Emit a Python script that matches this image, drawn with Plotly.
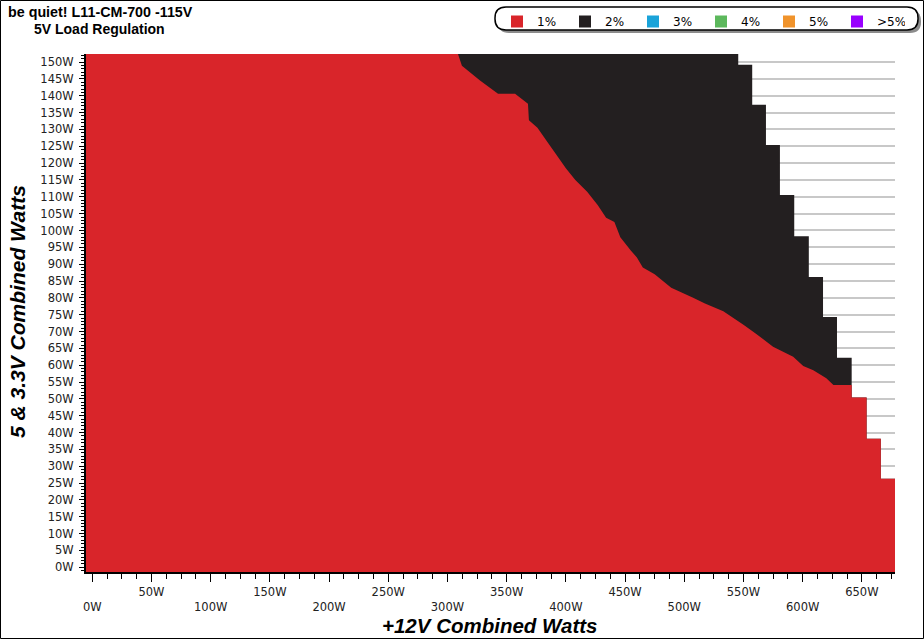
import plotly.graph_objects as go

# 5V/3.3V combined load (y) vs +12V combined load (x), in watts
# outer limit of the tested area: x edge of each 5V band, top band first
band_breaks_5v = [149.2, 137.3, 125.4, 110.5, 98.3, 86.2, 74.3, 62.2, 50.4, 38.2, 26.3]
band_max_12v = [545.6, 557.4, 569.0, 580.8, 592.9, 605.2, 617.2, 629.0, 641.4, 654.0, 666.0, 678.0]

# border between the 1% (red) and 2% (black) zones, top to bottom
border_12v = [308.9, 312.2, 327.5, 342.7, 357.1, 368.0, 368.8, 376.0, 385.0, 392.0, 400.0,
              408.0, 418.0, 427.0, 434.0, 441.0, 446.0, 455.0, 460.0, 465.0, 475.0, 489.0,
              507.5, 517.5, 533.0, 550.0, 560.0, 575.0, 592.0, 600.5, 609.0, 620.0, 626.0]
border_5v = [152.4, 148.9, 144.5, 140.6, 140.6, 137.6, 132.7, 130.5, 126.0, 122.5, 118.5,
             115.0, 111.5, 107.5, 103.8, 102.5, 98.0, 94.0, 92.0, 89.0, 87.0, 83.0,
             80.0, 78.3, 76.0, 72.0, 69.5, 65.5, 62.5, 59.8, 58.5, 56.1, 54.1]

legend_names = ["1%", "2%", "3%", "4%", "5%", ">5%"]
legend_colors = ["#d9252a", "#231f20", "#1aa3d9", "#5cb85c", "#f0932b", "#9900ff"]

x_ticks = list(range(0, 651, 50))
y_ticks = list(range(0, 151, 5))

X_RANGE = [-5.3, 678.0]
Y_RANGE = [-1.4, 152.4]

# plot area in pixels, used to place the texts and the legend box
PL, PR, PT, PB = 86, 895, 54, 572


def px_x(px):
    return (px - PL) / (PR - PL)


def px_y(py):
    return (PB - py) / (PB - PT)


def staircase(breaks, edges, top, bottom):
    xs, ys = [edges[0]], [top]
    for i, b in enumerate(breaks):
        xs += [edges[i], edges[i + 1]]
        ys += [b, b]
    xs.append(edges[-1])
    ys.append(bottom)
    return xs, ys


fig = go.Figure()

# 2% zone: whole tested area
sx, sy = staircase(band_breaks_5v, band_max_12v, Y_RANGE[1], Y_RANGE[0])
fig.add_trace(go.Scatter(
    x=[X_RANGE[0]] + sx + [X_RANGE[0]], y=[Y_RANGE[1]] + sy + [Y_RANGE[0]],
    fill="toself", fillcolor=legend_colors[1], mode="none", showlegend=False, hoverinfo="skip"))

# 1% zone: left of the border, then the outer limit below it
low = [i for i, b in enumerate(band_breaks_5v) if b < border_5v[-1]]
rx, ry = staircase(band_breaks_5v[low[0]:], band_max_12v[low[0]:], border_5v[-1], Y_RANGE[0])
fig.add_trace(go.Scatter(
    x=[X_RANGE[0]] + border_12v + rx + [X_RANGE[0]],
    y=[Y_RANGE[1]] + border_5v + ry + [Y_RANGE[0]],
    fill="toself", fillcolor=legend_colors[0], mode="none", showlegend=False, hoverinfo="skip"))

for name, color in zip(legend_names, legend_colors):
    fig.add_trace(go.Scatter(x=[None], y=[None], mode="markers", name=name,
                             marker=dict(symbol="square", size=12, color=color)))

tick_font = dict(family="DejaVu Sans", size=11.5, color="#222222")

fig.update_xaxes(
    range=X_RANGE, showgrid=False, zeroline=False,
    showline=True, linecolor="black", linewidth=2,
    tickmode="array", tickvals=x_ticks,
    ticktext=[f"{v}W" if v % 100 else f"<br>{v}W" for v in x_ticks],
    ticks="outside", ticklen=8, tickcolor="black", tickwidth=1,
    minor=dict(dtick=12.5, ticks="outside", ticklen=5, tickcolor="black"),
    tickfont=tick_font, fixedrange=True)

fig.update_yaxes(
    range=Y_RANGE, showgrid=True, gridcolor="#c8c8c8", gridwidth=2, zeroline=False,
    showline=True, linecolor="black", linewidth=2,
    tickmode="array", tickvals=y_ticks, ticktext=[f"{v}W" for v in y_ticks],
    ticks="outside", ticklen=5, tickcolor="black", tickwidth=1, ticklabelstandoff=3,
    minor=dict(dtick=1, ticks="outside", ticklen=3, tickcolor="black", showgrid=False),
    tickfont=tick_font, fixedrange=True)

# rounded legend box with shadow
def pill(x0, y0, x1, y1, r):
    rx, ry = r / (PR - PL), r / (PB - PT)
    a, b, c, d = px_x(x0), px_x(x1), px_y(y1), px_y(y0)
    return (f"M {a + rx},{d} L {b - rx},{d} Q {b},{d} {b},{d - ry} L {b},{c + ry} "
            f"Q {b},{c} {b - rx},{c} L {a + rx},{c} Q {a},{c} {a},{c + ry} "
            f"L {a},{d - ry} Q {a},{d} {a + rx},{d} Z")


shapes = [
    dict(type="path", xref="paper", yref="paper", path=pill(498, 10, 921, 33, 11),
         fillcolor="#8c8c8c", line=dict(width=0), layer="below"),
    dict(type="path", xref="paper", yref="paper", path=pill(495, 7, 918, 30, 11),
         fillcolor="white", line=dict(color="black", width=1.5), layer="below"),
    dict(type="rect", xref="paper", yref="paper", x0=px_x(0.5), x1=px_x(923.5),
         y0=px_y(638.5), y1=px_y(0.5), line=dict(color="black", width=1)),
]

annotations = [
    dict(text="<b>be quiet! L11-CM-700 -115V</b>", x=px_x(6), y=px_y(12),
         xanchor="left", yanchor="middle",
         font=dict(family="Liberation Sans", size=14.3, color="black")),
    dict(text="<b>5V Load Regulation</b>", x=px_x(32), y=px_y(29),
         xanchor="left", yanchor="middle",
         font=dict(family="Liberation Sans", size=14, color="black")),
    dict(text="<b><i>+12V Combined Watts</i></b>", x=px_x(490), y=px_y(625),
         xanchor="center", yanchor="middle",
         font=dict(family="Liberation Sans", size=20.5, color="black")),
    dict(text="<b><i>5 &amp; 3.3V Combined Watts</i></b>", x=px_x(17), y=px_y(312),
         xanchor="center", yanchor="middle", textangle=-90,
         font=dict(family="Liberation Sans", size=21, color="black")),
]
for a in annotations:
    a.update(xref="paper", yref="paper", showarrow=False)

fig.update_layout(
    width=924, height=639,
    margin=dict(l=PL, r=924 - PR, t=PT, b=639 - PB, autoexpand=False),
    plot_bgcolor="white", paper_bgcolor="white",
    shapes=shapes, annotations=annotations,
    legend=dict(orientation="h", x=px_x(497), y=px_y(7), xanchor="left", yanchor="top",
                bgcolor="rgba(0,0,0,0)", borderwidth=0,
                font=dict(family="DejaVu Sans", size=12, color="black"),
                entrywidth=23, entrywidthmode="pixels", itemwidth=30),
    showlegend=True,
)

# the page's default body margin would shift the 924x639 figure
fig.write_html("out.html", config={"displayModeBar": False},
               post_script="document.body.style.margin = '0';")
